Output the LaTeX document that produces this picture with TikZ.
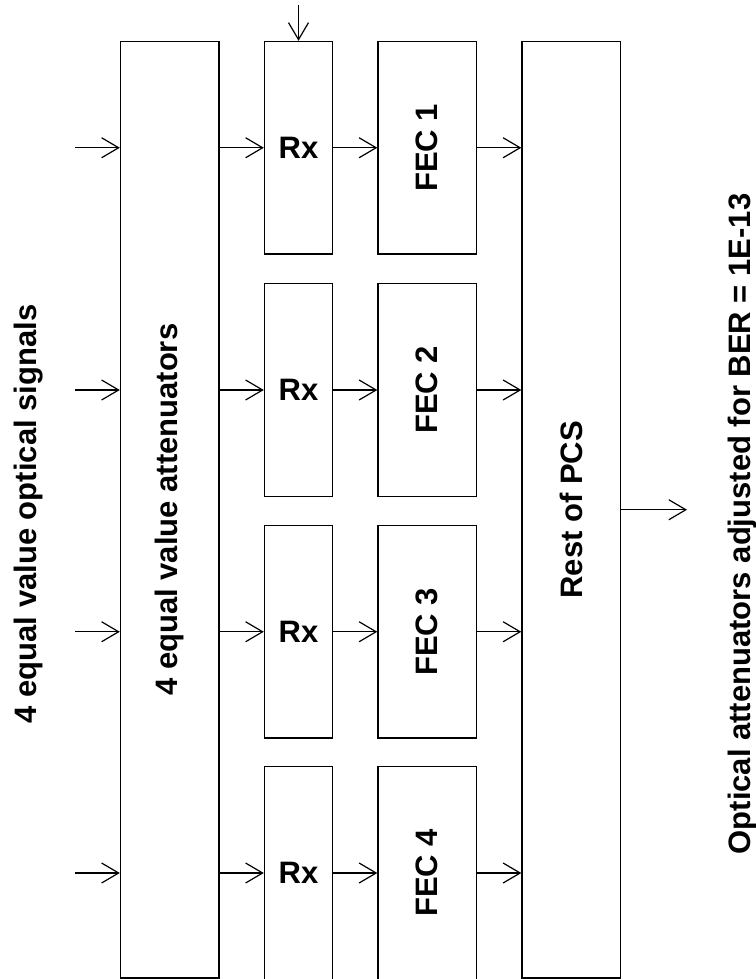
\documentclass[tikz,border=0pt]{standalone}
\usepackage{fontspec}
\setmainfont{Liberation Sans}
\usepackage{tikz}
\usetikzlibrary{positioning, arrows.meta, calc}

\tikzset{
    box/.style={draw, rectangle, line width=1.4pt, inner sep=0pt},
    tallbox/.style={box, minimum width=98.5pt, minimum height=936.5pt},
    rxbox/.style={box, minimum width=68pt, minimum height=212.5pt},
    fecbox/.style={box, minimum width=98.5pt, minimum height=212.5pt},
    sig/.style={-{Straight Barb[length=17pt, width=20pt, line width=1.2pt]}, line width=1.2pt},
    lbl/.style={font=\fontsize{31}{36}\selectfont\bfseries, inner sep=0pt}
}

\begin{document}
\begin{tikzpicture}[x=1pt, y=-1pt]
    \useasboundingbox (0,0) rectangle (755,979);

    % ---------------- BIG BLOCKS ----------------
    \node[tallbox] (att) at (169.75, 509.75) {};
    \node[lbl, rotate=90] (attlbl) at (att.center) {4 equal value attenuators};
    \node[tallbox] (pcs) at (571.25, 509.75) {};
    \node[lbl, rotate=90] (pcslbl) at (pcs.center) {Rest of PCS};

    % ---------------- RX / FEC PER LANE ----------------
    \node[rxbox] (rx1) at (298.5, 147.75) {}; \node[lbl] at (rx1.center) {Rx};
    \node[rxbox] (rx2) at (298.5, 390) {};    \node[lbl] at (rx2.center) {Rx};
    \node[rxbox] (rx3) at (298.5, 631.75) {}; \node[lbl] at (rx3.center) {Rx};
    \node[rxbox] (rx4) at (298.5, 873) {};    \node[lbl] at (rx4.center) {Rx};

    \node[fecbox] (fec1) at (427.25, 147.75) {}; \node[lbl, rotate=90] at (fec1.center) {FEC 1};
    \node[fecbox] (fec2) at (427.25, 390) {};    \node[lbl, rotate=90] at (fec2.center) {FEC 2};
    \node[fecbox] (fec3) at (427.25, 631.75) {}; \node[lbl, rotate=90] at (fec3.center) {FEC 3};
    \node[fecbox] (fec4) at (427.25, 873) {};    \node[lbl, rotate=90] at (fec4.center) {FEC 4};

    % ---------------- SIDE TEXTS ----------------
    \node[lbl, rotate=90] (sigtxt) at (28.5, 514) {4 equal value optical signals};
    \node[lbl, rotate=90] (bertxt) at (742, 524) {Optical attenuators adjusted for BER = 1E-13};

    % free ends
    \coordinate (in1) at (75, 147.75);
    \coordinate (in2) at (75, 390);
    \coordinate (in3) at (75, 631.75);
    \coordinate (in4) at (75, 873);
    \coordinate (top) at (298.5, 5);
    \coordinate (out) at (687, 509.75);

    % ---------------- CONNECTORS ----------------
    \draw[sig] (in1) -- (in1 -| att.west);
    \draw[sig] (in2) -- (in2 -| att.west);
    \draw[sig] (in3) -- (in3 -| att.west);
    \draw[sig] (in4) -- (in4 -| att.west);

    \draw[sig] (rx1 -| att.east) -- (rx1.west);
    \draw[sig] (rx2 -| att.east) -- (rx2.west);
    \draw[sig] (rx3 -| att.east) -- (rx3.west);
    \draw[sig] (rx4 -| att.east) -- (rx4.west);

    \draw[sig] (rx1.east) -- (fec1.west);
    \draw[sig] (rx2.east) -- (fec2.west);
    \draw[sig] (rx3.east) -- (fec3.west);
    \draw[sig] (rx4.east) -- (fec4.west);

    \draw[sig] (fec1.east) -- (fec1 -| pcs.west);
    \draw[sig] (fec2.east) -- (fec2 -| pcs.west);
    \draw[sig] (fec3.east) -- (fec3 -| pcs.west);
    \draw[sig] (fec4.east) -- (fec4 -| pcs.west);

    \draw[sig] (top) -- (rx1.north);
    \draw[sig] (pcs.east) -- (out);
\end{tikzpicture}
\end{document}
